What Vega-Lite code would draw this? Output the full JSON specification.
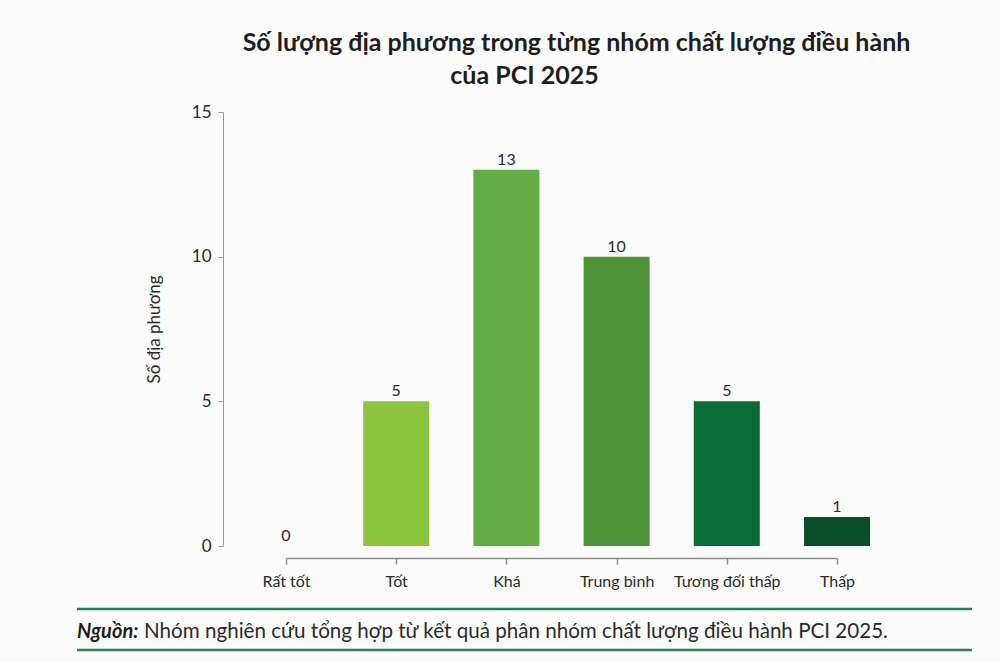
{
  "$schema": "https://vega.github.io/schema/vega-lite/v6.json",
  "background": "#fbfbfb",
  "padding": {"left": 75, "top": 31, "right": 30, "bottom": 10},
  "title": {
    "text": "Số lượng địa phương trong từng nhóm chất lượng điều hành",
    "anchor": "middle",
    "dx": 52,
    "fontSize": 25,
    "fontWeight": "bold",
    "color": "#1e1e1e",
    "offset": 8
  },
  "spacing": 18,
  "vconcat": [
    {
      "width": 895,
      "height": 434,
      "title": {
        "text": "của PCI 2025",
        "anchor": "middle",
        "fontSize": 25,
        "fontWeight": "bold",
        "color": "#1e1e1e",
        "offset": 14
      },
      "data": {
        "values": [
          {"nhom": "Rất tốt", "so": 0},
          {"nhom": "Tốt", "so": 5},
          {"nhom": "Khá", "so": 13},
          {"nhom": "Trung bình", "so": 10},
          {"nhom": "Tương đối thấp", "so": 5},
          {"nhom": "Thấp", "so": 1}
        ]
      },
      "layer": [
        {
          "mark": {"type": "bar", "size": 66},
          "encoding": {
            "x": {
              "field": "nhom",
              "type": "nominal",
              "sort": null,
              "scale": {
                "type": "point",
                "domain": ["Rất tốt", "Tốt", "Khá", "Trung bình", "Tương đối thấp", "Thấp"],
                "range": [209, 760],
                "padding": 0
              },
              "axis": {
                "title": null,
                "domain": true,
                "domainColor": "#8c8c8c",
                "domainWidth": 1.5,
                "offset": 12,
                "tickSize": 6,
                "tickWidth": 1.5,
                "tickColor": "#8c8c8c",
                "labelAngle": 0,
                "labelFontSize": 16,
                "labelColor": "#2a2a2a",
                "labelPadding": 9
              }
            },
            "y": {
              "field": "so",
              "type": "quantitative",
              "scale": {"domain": [0, 15], "nice": false},
              "axis": {
                "title": "Số địa phương",
                "titleFontSize": 17,
                "titleFontWeight": "normal",
                "titleColor": "#2a2a2a",
                "titlePadding": 28,
                "values": [0, 5, 10, 15],
                "offset": -146,
                "grid": false,
                "domainColor": "#9a9a9a",
                "tickColor": "#9a9a9a",
                "tickSize": 5,
                "labelFontSize": 17,
                "labelColor": "#2a2a2a",
                "labelPadding": 7
              }
            },
            "color": {
              "field": "nhom",
              "type": "nominal",
              "scale": {
                "domain": ["Rất tốt", "Tốt", "Khá", "Trung bình", "Tương đối thấp", "Thấp"],
                "range": ["#a6d15a", "#8cc43f", "#64ad46", "#4f9338", "#096c35", "#0a4d2b"]
              },
              "legend": null
            }
          }
        },
        {
          "mark": {"type": "text", "baseline": "bottom", "dy": -2, "fontSize": 16, "color": "#2a2a2a"},
          "encoding": {
            "x": {"field": "nhom", "type": "nominal", "sort": null},
            "y": {"field": "so", "type": "quantitative"},
            "text": {"field": "so", "type": "quantitative"}
          }
        }
      ]
    },
    {
      "width": 895,
      "height": 41,
      "layer": [
        {
          "data": {"values": [{"vitri": 0}, {"vitri": 1}]},
          "mark": {"type": "rule", "color": "#2e7d5a", "strokeWidth": 2.5},
          "encoding": {
            "y": {"field": "vitri", "type": "quantitative", "scale": {"domain": [0, 1], "nice": false}, "axis": null},
            "x": {"datum": 0, "type": "quantitative", "scale": {"domain": [0, 1]}, "axis": null},
            "x2": {"datum": 1}
          }
        },
        {
          "data": {"values": [{"chu": "Nguồn:"}]},
          "mark": {"type": "text", "align": "left", "baseline": "middle", "fontSize": 20, "fontWeight": "bold", "fontStyle": "italic", "color": "#1e1e1e", "dy": 2},
          "encoding": {
            "x": {"datum": 0, "type": "quantitative"},
            "y": {"datum": 0.5, "type": "quantitative"},
            "text": {"field": "chu"}
          }
        },
        {
          "data": {"values": [{"chu": "Nhóm nghiên cứu tổng hợp từ kết quả phân nhóm chất lượng điều hành PCI 2025."}]},
          "mark": {"type": "text", "align": "left", "baseline": "middle", "fontSize": 20.6, "color": "#2a2a2a", "dx": 67, "dy": 2},
          "encoding": {
            "x": {"datum": 0, "type": "quantitative"},
            "y": {"datum": 0.5, "type": "quantitative"},
            "text": {"field": "chu"}
          }
        }
      ]
    }
  ],
  "config": {
    "font": "Lato",
    "view": {"stroke": null}
  }
}
